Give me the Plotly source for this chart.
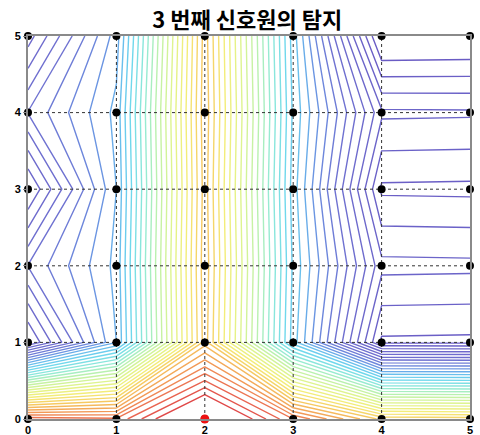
import plotly.graph_objects as go

# Grid of sensor positions
xs = [0, 1, 2, 3, 4, 5]
ys = [0, 1, 2, 3, 4, 5]

# Detection surface at each grid node (rows: y = 0..5, columns: x = 0..5)
z_y0 = [43.6, 43.2, 49.5, 43.0, 37.7, 37.5]
z_y1 = [12.9, 21.0, 38.5, 22.5, 10.8, 10.75]
z_y2 = [17.05, 21.3, 38.7, 22.8, 13.3, 13.25]
z_y3 = [12.9, 21.0, 38.5, 22.5, 10.8, 10.75]
z_y4 = [17.05, 21.3, 38.7, 22.8, 13.2, 13.15]
z_y5 = [13.5, 20.5, 38.5, 22.5, 8.5, 8.6]
z = [z_y0, z_y1, z_y2, z_y3, z_y4, z_y5]

# Located source
source_x = [2]
source_y = [0]

tick_vals = [0, 1, 2, 3, 4, 5]
tick_text = ["0", "1", "2", "3", "4", "5"]
title_text = "3 번째 신호원의 탐지"

pastel_jet = [
    [0.00, "#6a5cc4"],
    [0.19, "#6f70d0"],
    [0.27, "#6c8ee0"],
    [0.32, "#68b8ec"],
    [0.38, "#6cd6ee"],
    [0.46, "#90ead8"],
    [0.54, "#c0f2a8"],
    [0.62, "#e2f48c"],
    [0.70, "#f4ec78"],
    [0.78, "#f6c860"],
    [0.86, "#f29a56"],
    [0.95, "#e86050"],
    [1.00, "#e04848"],
]

fig = go.Figure()

fig.add_trace(go.Contour(
    x=xs, y=ys, z=z,
    contours=dict(coloring="lines", start=10, end=46, size=1),
    line=dict(width=1.4, smoothing=0),
    colorscale=pastel_jet, zmin=9, zmax=46, zauto=False,
    showscale=False, hoverinfo="skip",
))

# Dotted interior grid lines
for v in tick_vals[1:-1]:
    fig.add_trace(go.Scatter(x=[v, v], y=[ys[0], ys[-1]], mode="lines",
                             line=dict(color="#333333", width=1, dash="dot"),
                             showlegend=False, hoverinfo="skip"))
    fig.add_trace(go.Scatter(x=[xs[0], xs[-1]], y=[v, v], mode="lines",
                             line=dict(color="#333333", width=1, dash="dot"),
                             showlegend=False, hoverinfo="skip"))

# Sensor nodes
gx = [x for y in ys for x in xs]
gy = [y for y in ys for x in xs]
fig.add_trace(go.Scatter(x=gx, y=gy, mode="markers",
                         marker=dict(color="black", size=8),
                         cliponaxis=False, showlegend=False, hoverinfo="skip"))
fig.add_trace(go.Scatter(x=source_x, y=source_y, mode="markers",
                         marker=dict(color="#ee1111", size=9),
                         cliponaxis=False, showlegend=False, hoverinfo="skip"))

axis_common = dict(
    tickmode="array", tickvals=tick_vals, ticktext=tick_text,
    showgrid=False, zeroline=False, automargin=False,
    showline=True, linecolor="#8a8a8a", linewidth=2, mirror=True,
    tickfont=dict(family="Liberation Sans, Arial, sans-serif", size=11,
                  color="black", weight="bold"),
)

fig.update_layout(
    width=480, height=435,
    margin=dict(l=28, r=10, t=36, b=16),
    paper_bgcolor="white", plot_bgcolor="white",
    title=dict(text=title_text, x=0.515, xanchor="center", y=0.953, yanchor="middle",
               font=dict(family="Noto Sans CJK KR", size=22, color="black",
                         weight="bold")),
    xaxis=dict(range=[0, 5], ticks="", **axis_common),
    yaxis=dict(range=[0, 5], ticks="outside", ticklen=3, tickcolor="#8a8a8a",
               **axis_common),
)

fig.write_html("out.html")
